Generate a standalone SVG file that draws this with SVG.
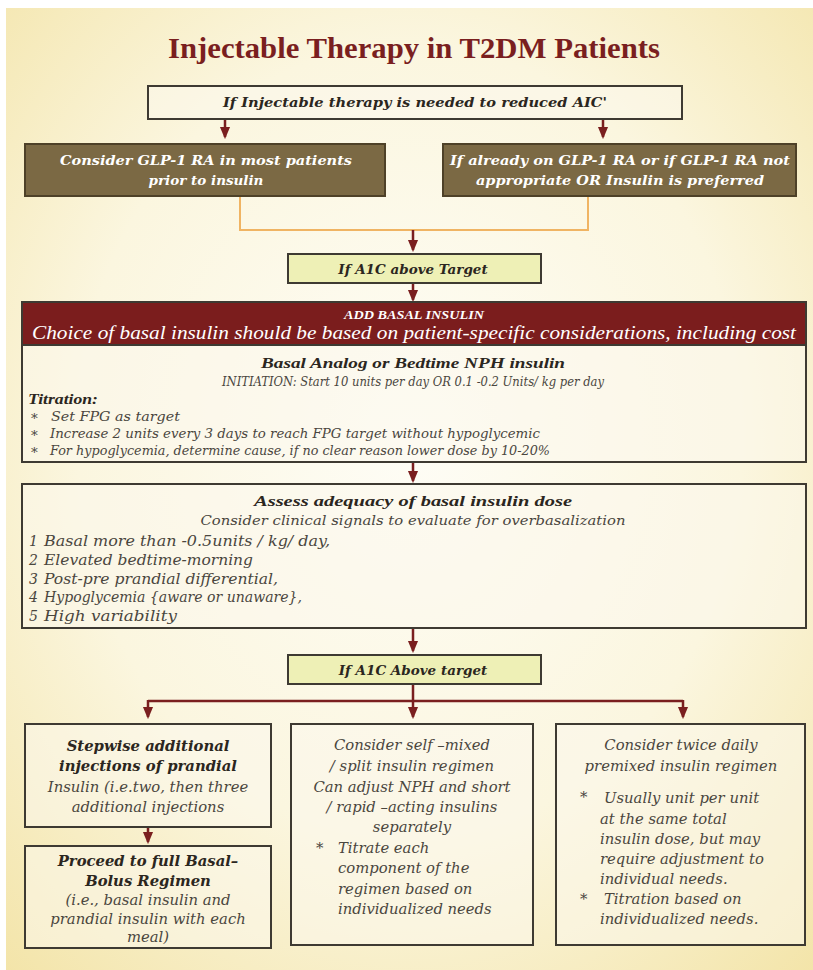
<svg xmlns="http://www.w3.org/2000/svg" width="813" height="970" viewBox="0 0 813 970">
<defs>
<radialGradient id="bg" cx="0.5" cy="0.45" r="0.75">
<stop offset="0" stop-color="#fefdf6"/>
<stop offset="0.55" stop-color="#fbf6df"/>
<stop offset="1" stop-color="#f3e4a8"/>
</radialGradient>
<marker id="ah" viewBox="0 0 6 6" refX="5" refY="3" markerWidth="5" markerHeight="5" orient="auto">
<path d="M0,0.5 L6,3 L0,5.5 Z" fill="#7a1f1f"/>
</marker>
<style>
.frame{fill:#fbf8ec;fill-opacity:0.55;stroke:#3e3a32;stroke-width:2}
.olive{fill:#7b6944;stroke:#4e4128;stroke-width:2}
.green{fill:#eef0b6;stroke:#3e3a32;stroke-width:2}
.con{stroke:#7a1f1f;stroke-width:2.5;fill:none}
.orange{stroke:#f0b463;stroke-width:2;fill:none}
.bk{font-family:"DejaVu Serif","Liberation Serif",serif;font-style:italic}
.lb{font-family:"Liberation Serif","DejaVu Serif",serif;font-style:italic}
.b{font-weight:bold}
.c{text-anchor:middle}
.dk{fill:#2b2620}
.gr{fill:#4a463e}
.wh{fill:#ffffff}
</style>
</defs>
<rect width="813" height="970" fill="#ffffff"/>
<rect x="6" y="8" width="807" height="962" fill="url(#bg)"/>

<text x="414" y="58" text-anchor="middle" font-family="'Liberation Serif',serif" font-weight="bold" font-size="30" fill="#7a1f1f" textLength="492" lengthAdjust="spacingAndGlyphs">Injectable Therapy in T2DM Patients</text>

<g id="connectors">
<line class="con" x1="225" y1="119" x2="225" y2="137" marker-end="url(#ah)"/>
<line class="con" x1="603" y1="119" x2="603" y2="137" marker-end="url(#ah)"/>
<polyline class="orange" points="240,197 240,230 588,230 588,197"/>
<line class="con" x1="413" y1="230" x2="413" y2="250" marker-end="url(#ah)"/>
<line class="con" x1="413" y1="284" x2="413" y2="300" marker-end="url(#ah)"/>
<line class="con" x1="413" y1="462" x2="413" y2="481" marker-end="url(#ah)"/>
<line class="con" x1="413" y1="628" x2="413" y2="651" marker-end="url(#ah)"/>
<line class="con" x1="413" y1="684" x2="413" y2="701"/>
<line class="con" x1="148" y1="701" x2="683" y2="701"/>
<line class="con" x1="148" y1="700" x2="148" y2="717" marker-end="url(#ah)"/>
<line class="con" x1="413" y1="701" x2="413" y2="717" marker-end="url(#ah)"/>
<line class="con" x1="683" y1="700" x2="683" y2="717" marker-end="url(#ah)"/>
<line class="con" x1="148" y1="828" x2="148" y2="842" marker-end="url(#ah)"/>
</g>

<g id="n-start">
<rect class="frame" x="148" y="86" width="534" height="33"/>
<text class="bk b c dk" x="415" y="107" font-size="13" textLength="384" lengthAdjust="spacingAndGlyphs">If Injectable therapy is needed to reduced AIC'</text>
</g>

<g id="n-glp1">
<rect class="olive" x="25" y="144" width="360" height="52"/>
<text class="bk b c wh" font-size="13.5"><tspan x="206" y="165" textLength="292" lengthAdjust="spacingAndGlyphs">Consider GLP-1 RA in most patients</tspan><tspan x="206" y="185">prior to insulin</tspan></text>
</g>

<g id="n-insulin-pref">
<rect class="olive" x="443" y="144" width="353" height="52"/>
<text class="bk b c wh" font-size="13.5"><tspan x="620" y="165" textLength="340" lengthAdjust="spacingAndGlyphs">If already on GLP-1 RA or if GLP-1 RA not</tspan><tspan x="620" y="185" textLength="288" lengthAdjust="spacingAndGlyphs">appropriate OR Insulin is preferred</tspan></text>
</g>

<g id="n-a1c-1">
<rect class="green" x="288" y="254" width="253" height="29"/>
<text class="bk b c dk" x="413" y="274" font-size="13.5">If A1C above Target</text>
</g>

<g id="n-basal">
<rect class="frame" x="22" y="302" width="784" height="160"/>
<rect x="22" y="302" width="784" height="43" fill="#7b1d1d" stroke="#3e3a32" stroke-width="2"/>
<text class="lb b c wh" x="414" y="319" font-size="13" textLength="140" lengthAdjust="spacingAndGlyphs">ADD BASAL INSULIN</text>
<text class="lb c wh" x="414" y="339" font-size="19.5" textLength="764" lengthAdjust="spacingAndGlyphs">Choice of basal insulin should be based on patient-specific considerations, including cost</text>
<text class="lb b c dk" x="413" y="368" font-size="15.5" textLength="304" lengthAdjust="spacingAndGlyphs">Basal Analog or Bedtime NPH insulin</text>
<text class="bk c gr" x="413" y="386" font-size="13" textLength="382" lengthAdjust="spacingAndGlyphs">INITIATION: Start 10 units per day OR 0.1 -0.2 Units/ kg per day</text>
<text class="lb b dk" x="28" y="404" font-size="15.5" textLength="70" lengthAdjust="spacingAndGlyphs">Titration:</text>
<g class="bk gr" font-size="13.5">
<text x="31" y="423">*</text><text x="51" y="421" textLength="129" lengthAdjust="spacingAndGlyphs">Set FPG as target</text>
<text x="31" y="440">*</text><text x="50" y="438" textLength="490" lengthAdjust="spacingAndGlyphs">Increase 2 units every 3 days to reach FPG target without hypoglycemic</text>
<text x="31" y="457">*</text><text x="50" y="455" textLength="500" lengthAdjust="spacingAndGlyphs">For hypoglycemia, determine cause, if no clear reason lower dose by 10-20%</text>
</g>
</g>

<g id="n-assess">
<rect class="frame" x="22" y="484" width="784" height="144"/>
<text class="lb b c dk" x="413" y="506" font-size="15.5" textLength="318" lengthAdjust="spacingAndGlyphs">Assess adequacy of basal insulin dose</text>
<text class="bk c gr" x="413" y="525" font-size="13.5" textLength="425" lengthAdjust="spacingAndGlyphs">Consider clinical signals to evaluate for overbasalization</text>
<g class="bk gr" font-size="14">
<text x="29" y="546">1</text><text x="44" y="546" textLength="286" lengthAdjust="spacingAndGlyphs">Basal more than -0.5units / kg/ day,</text>
<text x="29" y="565">2</text><text x="44" y="565" textLength="209" lengthAdjust="spacingAndGlyphs">Elevated bedtime-morning</text>
<text x="29" y="584">3</text><text x="44" y="584" textLength="234" lengthAdjust="spacingAndGlyphs">Post-pre prandial differential,</text>
<text x="29" y="602">4</text><text x="44" y="602" textLength="258" lengthAdjust="spacingAndGlyphs">Hypoglycemia {aware or unaware},</text>
<text x="29" y="621">5</text><text x="44" y="621" textLength="133" lengthAdjust="spacingAndGlyphs">High variability</text>
</g>
</g>

<g id="n-a1c-2">
<rect class="green" x="288" y="655" width="253" height="29"/>
<text class="bk b c dk" x="413" y="675" font-size="13.5">If A1C Above target</text>
</g>

<g id="n-stepwise">
<rect class="frame" x="25" y="724" width="246" height="103"/>
<text class="bk c dk" font-size="14.8"><tspan class="b" x="148" y="751">Stepwise additional</tspan><tspan class="b" x="148" y="771">injections of prandial</tspan><tspan class="gr" x="148" y="792">Insulin (i.e.two, then three</tspan><tspan class="gr" x="148" y="812">additional injections</tspan></text>
</g>

<g id="n-basal-bolus">
<rect class="frame" x="25" y="846" width="246" height="102"/>
<text class="bk c dk" font-size="14.8"><tspan class="b" x="148" y="866">Proceed to full Basal–</tspan><tspan class="b" x="148" y="886">Bolus Regimen</tspan><tspan class="gr" x="148" y="905">(i.e., basal insulin and</tspan><tspan class="gr" x="148" y="924">prandial insulin with each</tspan><tspan class="gr" x="148" y="942">meal)</tspan></text>
</g>

<g id="n-self-mixed">
<rect class="frame" x="291" y="724" width="242" height="221"/>
<g class="bk gr" font-size="14.8">
<text class="c" x="412" y="750">Consider self –mixed</text>
<text class="c" x="412" y="771">/ split insulin regimen</text>
<text class="c" x="412" y="792">Can adjust NPH and short</text>
<text class="c" x="412" y="812">/ rapid –acting insulins</text>
<text class="c" x="412" y="832">separately</text>
<text x="316" y="853">*</text>
<text x="338" y="853">Titrate each</text>
<text x="338" y="873">component of the</text>
<text x="338" y="894">regimen based on</text>
<text x="338" y="914">individualized needs</text>
</g>
</g>

<g id="n-premixed">
<rect class="frame" x="556" y="724" width="249" height="221"/>
<g class="bk gr" font-size="14.8">
<text class="c" x="681" y="750">Consider twice daily</text>
<text class="c" x="681" y="771">premixed insulin regimen</text>
<text x="580" y="802">*</text>
<text x="604" y="803">Usually unit per unit</text>
<text x="600" y="824">at the same total</text>
<text x="600" y="844">insulin dose, but may</text>
<text x="600" y="864">require  adjustment to</text>
<text x="600" y="884">individual needs.</text>
<text x="580" y="904">*</text>
<text x="604" y="904">Titration based on</text>
<text x="600" y="924">individualized needs.</text>
</g>
</g>
</svg>
